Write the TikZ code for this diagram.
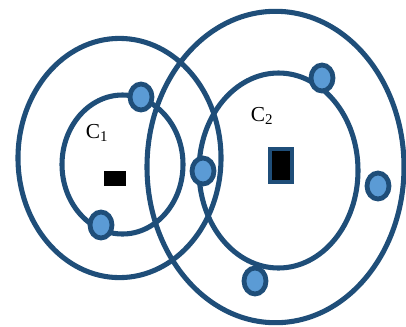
\documentclass[tikz,border=0pt]{standalone}
\usepackage{fontspec}
\setmainfont{Liberation Serif}
\usetikzlibrary{shapes.geometric}
\definecolor{ringblue}{HTML}{1F4E79}
\definecolor{elecblue}{HTML}{5B9BD5}

\begin{document}
\begin{tikzpicture}[x=0.75pt,y=-0.75pt,
		ring/.style={draw=ringblue,line width=3.8pt},
		electron/.style={ellipse,draw=ringblue,fill=elecblue,line width=3.6pt,minimum width=16.5pt,minimum height=19.5pt,inner sep=0pt},
		nucleus/.style={rectangle,fill=black,inner sep=0pt},
		clabel/.style={font=\fontsize{16}{18}\selectfont,inner sep=0pt}]
		\useasboundingbox (0,0) rectangle (406,326);
		% orbits of the two clusters
		\draw[ring] (119.5,158) ellipse (101.5 and 119.6);
		\draw[ring] (122.5,164.5) ellipse (60.5 and 69.5);
		\draw[ring] (275.5,167) ellipse (128.5 and 155.7);
		\draw[ring] (278.5,170.5) ellipse (79.5 and 97.5);
		% electrons
		\foreach \n/\x/\y in {1/141/97,2/101/225,3/203/171,4/322/78,5/378/186,6/255/281}
			\node[electron] (e\n) at (\x,\y) {};
		% nuclei
		\node[nucleus,minimum width=16.5pt,minimum height=11.25pt] (n1) at (115,178.5) {};
		\node[nucleus,draw=ringblue,line width=3.2pt,minimum width=16.5pt,minimum height=24.75pt] (n2) at (281,165.5) {};
		% labels
		\node[clabel] (c1) at (97,133) {C\textsubscript{1}};
		\node[clabel] (c2) at (262,116) {C\textsubscript{2}};
	\end{tikzpicture}
\end{document}
